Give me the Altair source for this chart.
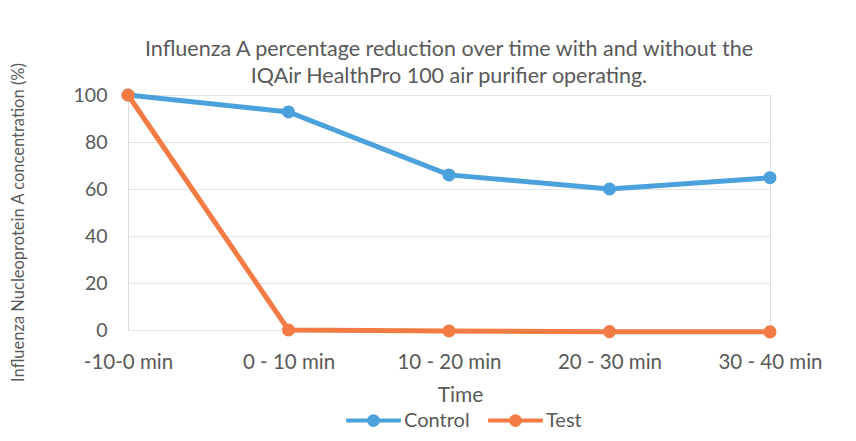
import altair as alt
import pandas as pd

categories = ["-10-0 min", "0 - 10 min", "10 - 20 min", "20 - 30 min", "30 - 40 min"]
control = [100, 92.8, 66, 60, 64.8]
test = [100, 0, -0.4, -0.7, -0.8]
series_names = ["Control", "Test"]
colors = ["#4ba1dc", "#f57b45"]

rows = []
for c, v in zip(categories, control):
    rows.append({"Time": c, "value": v, "series": "Control"})
for c, v in zip(categories, test):
    rows.append({"Time": c, "value": v, "series": "Test"})
df = pd.DataFrame(rows)

FONT = "Lato"
TXT = "#595959"

# legend symbol: a line with a filled-looking dot (concentric stroked circles)
def circ(r):
    return f"M{-r},0A{r},{r} 0 1,1 {r},0A{r},{r} 0 1,1 {-r},0Z"
sym = "M-1,0L1,0" + circ(0.05) + circ(0.1) + circ(0.16)

x = alt.X("Time:N", sort=categories,
          scale=alt.Scale(type="point", padding=0),
          axis=alt.Axis(title="Time", labelAngle=0, domain=False, ticks=False, grid=False, gridOpacity=0,
                        labelPadding=22, labelFontSize=20.5, labelColor=TXT, labelFont=FONT,
                        titleFontSize=21, titleColor=TXT, titleFont=FONT, titleFontWeight="normal",
                        titleX=332, titleY=65, titleBaseline="middle"))
y = alt.Y("value:Q", scale=alt.Scale(domain=[0, 100], nice=False),
          axis=alt.Axis(title="Influenza Nucleoprotein A concentration (%)", values=[0, 20, 40, 60, 80, 100],
                        domain=False, ticks=False, grid=True, gridColor="#e3e3e3", gridWidth=1,
                        labelPadding=21, labelFontSize=19.5, labelColor=TXT, labelFont=FONT,
                        titleFontSize=16.5, titleColor=TXT, titleFont=FONT, titleFontWeight="normal",
                        titleX=-110, titleY=127, titleAngle=270, titleBaseline="middle", titleAlign="center"))
color = alt.Color("series:N", scale=alt.Scale(domain=series_names, range=colors),
                  legend=alt.Legend(title=None, orient="none", direction="horizontal",
                                    legendX=216, legendY=296,
                                    symbolType=sym, symbolSize=3000, symbolStrokeWidth=4,
                                    labelFontSize=20, labelColor=TXT, labelFont=FONT,
                                    labelOffset=1, columnPadding=10))

base = alt.Chart(df)
line = base.mark_line(strokeWidth=5, clip=False).encode(x=x, y=y, color=color)
pts = base.mark_point(filled=True, size=170, opacity=1, clip=False).encode(x=x, y=y, color=alt.Color("series:N", scale=alt.Scale(domain=series_names, range=colors), legend=None))

chart = alt.layer(line, pts).properties(
    width=642, height=235,
    autosize=alt.AutoSizeParams(type="none"),
    padding={"left": 120, "top": 87, "right": 78, "bottom": 103},
    title=alt.TitleParams(
        text=["Influenza A percentage reduction over time with and without the",
              "IQAir HealthPro 100 air purifier operating."],
        font=FONT, fontSize=21.5, fontWeight="normal", color=TXT, anchor="middle",
        lineHeight=27, offset=4, dy=29),
).configure_view(stroke="transparent", strokeWidth=0).configure(background="white")

chart.save("out.html", embed_options={"renderer": "svg", "actions": False})
